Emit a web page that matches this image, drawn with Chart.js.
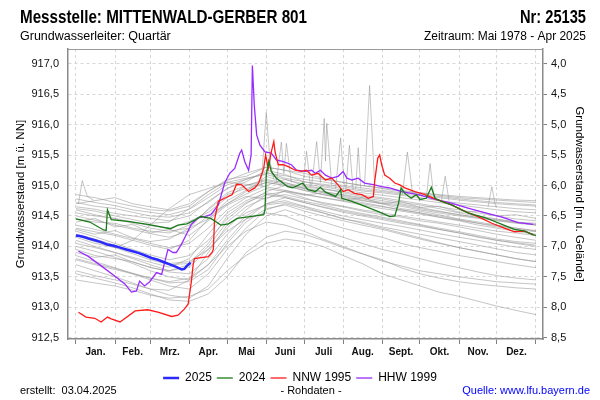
<!DOCTYPE html>
<html><head><meta charset="utf-8">
<script src="https://cdn.jsdelivr.net/npm/chart.js@4.4.1/dist/chart.umd.min.js"></script>
<style>html,body{margin:0;padding:0;background:#fff;}#wrap{width:600px;height:400px;position:relative;}</style>
</head><body><div id="wrap"><canvas id="c" width="600" height="400"></canvas></div>
<script>
const FONT = '"Liberation Sans", Arial, sans-serif';
const titleLeft = 'Messstelle: MITTENWALD-GERBER 801';
const titleRight = 'Nr: 25135';
const subLeft = 'Grundwasserleiter: Quartär';
const subRight = 'Zeitraum: Mai 1978 - Apr 2025';
const footLeft = 'erstellt:  03.04.2025';
const footMid = '- Rohdaten -';
const footRight = 'Quelle: www.lfu.bayern.de';
const yTitleLeft = 'Grundwasserstand [m ü. NN]';
const yTitleRight = 'Grundwasserstand [m u. Gelände]';
const groundLevel = 921.0;

const monthLabels = ['Jan.','Feb.','Mrz.','Apr.','Mai','Juni','Juli','Aug.','Sept.','Okt.','Nov.','Dez.'];
const monthStarts = [0,31,59,90,120,151,181,212,243,273,304,334,365];
const monthMids = [15.5,45,74.5,105,135.5,166,196.5,227.5,258,288.5,319,349.5];
const leftTicks = [912.5,913.0,913.5,914.0,914.5,915.0,915.5,916.0,916.5,917.0];
const rightTicks = [4.0,4.5,5.0,5.5,6.0,6.5,7.0,7.5,8.0,8.5];

// Year 2025
const days2025 = [0,3,7,10,15,20,25,30,35,40,45,50,55,60,65,70,75,80,84,86,88,91];
const vals2025 = [914.18,914.17,914.15,914.13,914.10,914.07,914.03,914.01,913.98,913.95,913.92,913.89,913.85,913.81,913.78,913.74,913.70,913.66,913.62,913.63,913.68,913.73];

// Year 2024
const days2024 = [0,11,22,24,25,28,41,57,75,81,88,95,99,107,115,121,128,138,149,150,151,153,155,159,163,168,172,180,184,190,194,198,206,210,211,219,229,240,249,253,256,258,261,266,270,273,278,282,285,290,298,311,325,338,348,356,363,365];
const vals2024 = [914.45,914.40,914.27,914.26,914.60,914.44,914.41,914.36,914.29,914.35,914.37,914.44,914.49,914.46,914.35,914.37,914.46,914.49,914.52,914.60,915.17,915.40,915.23,915.12,915.06,914.98,914.96,915.04,914.93,914.90,914.97,914.89,914.82,914.93,914.79,914.74,914.66,914.57,914.49,914.50,914.71,914.96,914.87,914.79,914.85,914.77,914.79,914.97,914.79,914.74,914.68,914.55,914.47,914.36,914.28,914.25,914.19,914.18];

// NNW 1995
const daysNNW = [2,8,15,20,25,28,35,47,57,65,76,81,86,89,91.5,93,94,105,108,109,110,113,118,124,127.5,131.5,137,142,145,149,150.5,152.6,155,157,158,160.5,164.5,168.5,174,179,183,187,192,198,203,208,212,216,221,227,232,236,237,239.5,241,242.6,245,249,253,257,261,269,277,285,298,309,319,330,340,348,356,363];
const valsNNW = [912.92,912.84,912.82,912.76,912.84,912.81,912.76,912.94,912.96,912.92,912.85,912.87,912.97,913.05,913.41,913.70,913.80,913.83,913.90,913.95,914.44,914.74,914.79,914.85,915.02,915.01,914.90,914.96,915.04,915.28,915.50,915.28,915.55,915.72,915.55,915.34,915.34,915.31,915.25,915.23,915.25,915.17,915.20,915.09,915.12,915.01,914.90,914.93,914.87,914.85,914.79,914.82,915.06,915.45,915.50,915.34,915.17,915.12,915.04,915.01,914.96,914.90,914.85,914.78,914.68,914.57,914.49,914.38,914.30,914.24,914.25,914.19];

// HHW 1999
const daysHHW = [2,9.5,20,31,39,44,48,50.5,54.5,58.5,64,68,73,77,79.6,83.6,87.5,91.5,97,102,107,113,118,122,126,130,131.5,134,137,139,140,141.5,143.4,146,150,155,159,164.5,171,175,182,187,190,194,198,203,208,212,215,219,224,229,237,242.6,249,258.5,271.7,285,298,311,325,338,351,363];
const valsHHW = [913.92,913.84,913.68,913.51,913.38,913.25,913.27,913.43,913.35,913.42,913.57,913.54,913.95,913.90,913.90,914.03,914.19,914.36,914.47,914.49,914.52,914.68,915.04,915.20,915.28,915.53,915.58,915.39,915.25,915.50,916.97,916.32,915.83,915.66,915.55,915.53,915.42,915.39,915.34,915.25,915.23,915.25,915.20,915.25,915.17,915.12,915.15,915.23,915.12,915.09,915.12,915.04,915.01,914.98,914.96,914.90,914.85,914.77,914.71,914.63,914.55,914.48,914.39,914.36];

// Other years (grey), values at these days
const greyDays = [0,15,31,45,59,74,90,105,120,135,151,166,181,196,212,227,243,258,273,288,304,319,334,349,365];
const grey01 = [914.78,914.72,914.67,914.60,914.56,914.52,914.61,914.80,915.01,915.10,915.20,915.16,915.10,915.06,915.00,914.96,914.92,914.88,914.85,914.82,914.78,914.75,914.72,914.70,914.68];
const grey02 = [914.65,914.61,914.54,914.50,914.46,914.42,914.50,914.74,914.95,915.06,915.25,915.18,915.06,915.00,914.95,914.91,914.88,914.84,914.80,914.75,914.71,914.68,914.65,914.62,914.60];
const grey03 = [914.55,914.50,914.46,914.40,914.34,914.30,914.41,914.56,914.80,915.00,915.10,915.04,914.98,914.94,914.90,914.84,914.80,914.75,914.70,914.65,914.60,914.55,914.50,914.45,914.42];
const grey04 = [914.50,914.43,914.35,914.28,914.21,914.15,914.26,914.50,914.70,914.86,915.00,915.10,915.00,914.95,914.88,914.82,914.78,914.72,914.68,914.62,914.55,914.50,914.45,914.40,914.35];
const grey05 = [914.35,914.28,914.20,914.13,914.05,913.98,914.05,914.30,914.60,914.80,914.95,914.90,914.85,914.80,914.75,914.70,914.65,914.60,914.55,914.48,914.42,914.35,914.30,914.25,914.20];
const grey06 = [914.25,914.16,914.05,913.95,913.86,913.78,913.85,914.10,914.45,914.70,914.90,915.00,914.92,914.85,914.80,914.75,914.70,914.62,914.58,914.52,914.45,914.40,914.35,914.30,914.25];
const grey07 = [914.10,914.00,913.90,913.80,913.70,913.60,913.66,913.95,914.30,914.60,914.85,914.90,914.80,914.70,914.65,914.58,914.52,914.48,914.42,914.38,914.32,914.26,914.20,914.15,914.10];
const grey08 = [914.00,913.92,913.82,913.72,913.60,913.50,913.45,913.70,914.10,914.45,914.70,914.80,914.72,914.65,914.58,914.52,914.46,914.40,914.35,914.28,914.22,914.15,914.10,914.05,914.00];
const grey09 = [913.85,913.75,913.65,913.55,913.45,913.35,913.30,913.55,913.95,914.30,914.60,914.70,914.62,914.55,914.46,914.38,914.30,914.22,914.14,914.06,913.98,913.92,913.86,913.80,913.75];
const grey10 = [913.70,913.60,913.50,913.40,913.30,913.20,913.15,913.35,913.80,914.20,914.50,914.60,914.50,914.40,914.30,914.22,914.15,914.05,913.98,913.92,913.85,913.80,913.75,913.70,913.65];
const grey11 = [913.55,913.48,913.40,913.32,913.22,913.12,913.10,913.22,913.50,913.90,914.15,914.25,914.20,914.10,913.98,913.88,913.78,913.65,913.55,913.48,913.42,913.38,913.35,913.32,913.30];
const grey12 = [913.45,913.40,913.35,913.28,913.20,913.15,913.18,913.30,913.60,913.85,914.05,914.12,914.08,914.00,913.85,913.72,913.55,913.45,913.35,913.25,913.18,913.10,913.02,912.95,912.88];
const grey13 = [914.70,914.75,914.80,914.70,914.65,914.60,914.70,914.90,915.10,915.15,915.30,915.25,915.15,915.10,915.05,915.00,914.95,914.90,914.88,914.85,914.82,914.80,914.78,914.76,914.75];
const grey14 = [914.45,914.40,914.38,914.30,914.25,914.22,914.35,914.60,914.85,914.95,915.05,915.00,914.95,914.90,914.85,914.80,914.75,914.70,914.64,914.58,914.52,914.48,914.44,914.40,914.38];
const grey15 = [914.60,914.52,914.45,914.38,914.30,914.25,914.30,914.45,914.70,914.90,915.15,915.05,914.95,914.88,914.82,914.76,914.70,914.66,914.60,914.55,914.50,914.46,914.42,914.38,914.35];
const grey16 = [913.95,913.85,913.80,913.75,913.65,913.60,913.70,914.00,914.40,914.65,914.80,914.85,914.78,914.72,914.66,914.60,914.55,914.50,914.45,914.40,914.35,914.30,914.25,914.22,914.18];
const grey17 = [914.20,914.12,914.02,913.92,913.82,913.72,913.75,913.95,914.25,914.45,914.55,914.50,914.38,914.25,914.15,914.05,913.95,913.88,913.80,913.72,913.65,913.58,913.52,913.48,913.45];
const grey18 = [914.62,914.58,914.50,914.44,914.38,914.40,914.62,914.85,915.05,915.12,915.18,915.10,915.02,914.98,914.92,914.88,914.84,914.80,914.76,914.72,914.68,914.64,914.60,914.57,914.55];
const grey19 = [914.30,914.24,914.18,914.10,914.02,913.95,914.10,914.45,914.75,914.92,915.05,915.00,914.92,914.85,914.78,914.72,914.66,914.60,914.55,914.50,914.44,914.38,914.32,914.28,914.24];
const grey20 = [914.05,913.98,913.90,913.82,913.74,913.66,913.80,914.20,914.55,914.75,914.88,914.82,914.74,914.68,914.60,914.54,914.48,914.42,914.36,914.30,914.24,914.18,914.12,914.08,914.05];
const grey21 = [913.78,913.70,913.62,913.55,913.48,913.40,913.42,913.62,914.05,914.40,914.62,914.68,914.58,914.50,914.42,914.35,914.28,914.20,914.12,914.05,913.98,913.92,913.86,913.80,913.75];
const grey22 = [914.85,914.80,914.72,914.66,914.60,914.58,914.66,914.90,915.08,915.20,915.30,915.25,915.20,915.12,915.05,915.00,914.96,914.92,914.88,914.84,914.80,914.78,914.76,914.74,914.72];
const grey23 = [914.15,914.05,913.98,914.10,914.35,914.62,914.85,914.95,915.05,915.02,914.98,914.92,914.86,914.80,914.74,914.68,914.62,914.58,914.53,914.48,914.43,914.38,914.34,914.30,914.26];
const grey24 = [914.40,914.46,914.32,914.36,914.22,914.28,914.18,914.42,914.68,914.82,914.78,914.92,914.84,914.88,914.76,914.80,914.70,914.74,914.64,914.66,914.56,914.58,914.50,914.52,914.46];
const grey25 = [913.60,913.52,913.45,913.38,913.30,913.28,913.45,913.90,914.35,914.55,914.68,914.72,914.65,914.55,914.45,914.40,914.32,914.26,914.20,914.14,914.08,914.02,913.96,913.90,913.86];
const grey26 = [914.28,914.20,914.26,914.14,914.08,914.12,914.30,914.62,914.88,915.00,915.08,915.02,914.96,914.90,914.84,914.78,914.72,914.68,914.62,914.57,914.52,914.47,914.43,914.39,914.36];
const grey27 = [913.90,913.82,913.86,913.74,913.66,913.58,913.55,913.80,914.20,914.50,914.70,914.75,914.66,914.58,914.50,914.44,914.38,914.33,914.27,914.21,914.15,914.10,914.04,913.99,913.95];
const grey28 = [913.80,913.72,913.64,913.56,913.48,913.42,913.48,913.70,914.00,914.25,914.40,914.35,914.25,914.12,914.00,913.88,913.76,913.68,913.60,913.55,913.50,913.46,913.42,913.40,913.38];
const grey29 = [914.72,914.66,914.62,914.56,914.50,914.48,914.55,914.72,914.95,915.10,915.22,915.12,915.06,915.02,914.98,914.93,914.90,914.86,914.83,914.80,914.76,914.73,914.70,914.68,914.66];
const grey30 = [914.18,914.08,913.98,913.88,913.78,913.70,913.72,914.05,914.50,914.72,914.85,914.80,914.72,914.64,914.56,914.50,914.44,914.38,914.33,914.28,914.22,914.16,914.10,914.06,914.02];
const greyYears = [grey01,grey02,grey03,grey04,grey05,grey06,grey07,grey08,grey09,grey10,grey11,grey12,grey13,grey14,grey15,grey16,grey17,grey18,grey19,grey20,grey21,grey22,grey23,grey24,grey25,grey26,grey27,grey28,grey29,grey30];

// Short-lived peaks of other years: [day, value]
const peakJan = [[2,914.70],[5,915.08],[9,914.82],[14,914.76]];
const peakJun1 = [[147,915.00],[151,916.20],[154,915.40],[157,915.10]];
const peakJun2 = [[159,915.05],[163,915.71],[165,915.20],[167,915.69],[171,915.05]];
const peakJul0 = [[180,915.00],[183,915.56],[186,915.00]];
const peakJul1 = [[187,915.00],[191,915.72],[194,915.05]];
const peakJul2 = [[194,915.05],[197,916.10],[198,915.40],[199,916.02],[203,915.00]];
const peakJul3 = [[206,914.95],[210,915.78],[213,914.98]];
const peakAug1 = [[214,914.90],[217,915.66],[220,914.92]];
const peakAug2 = [[222,914.95],[224,915.62],[226,914.95]];
const peakAug3 = [[229,915.00],[233,916.64],[237,915.02]];
const peakSep = [[259,914.85],[263,915.55],[267,914.88]];
const peakOkt1 = [[278,914.80],[281,915.36],[284,914.80]];
const peakOkt2 = [[290,914.75],[293,915.15],[296,914.75]];
const peakNov = [[327,914.65],[330,914.98],[333,914.65]];
const greyPeaks = [peakJan,peakJun1,peakJun2,peakJul0,peakJul1,peakJul2,peakJul3,peakAug1,peakAug2,peakAug3,peakSep,peakOkt1,peakOkt2,peakNov];

const xy = (ds, vs) => ds.map((d, i) => ({x: d, y: vs[i]}));
const GREY = 'rgba(150,150,150,0.55)';
const mainSets = [
  {label:'2025', data: xy(days2025, vals2025), borderColor:'#2a2aff', backgroundColor:'#2a2aff', borderWidth:2.5},
  {label:'2024', data: xy(days2024, vals2024), borderColor:'#1a7a1a', backgroundColor:'#1a7a1a', borderWidth:1.3},
  {label:'NNW 1995', data: xy(daysNNW, valsNNW), borderColor:'#ff1a1a', backgroundColor:'#ff1a1a', borderWidth:1.3},
  {label:'HHW 1999', data: xy(daysHHW, valsHHW), borderColor:'#9a2bff', backgroundColor:'#9a2bff', borderWidth:1.3}
];
const greySets = greyYears.map(v => ({label:'', data: xy(greyDays, v), borderColor: GREY, borderWidth: 1}))
  .concat(greyPeaks.map(p => ({label:'', data: p.map(q => ({x:q[0], y:q[1]})), borderColor: GREY, borderWidth: 1})));
const datasets = mainSets.concat(greySets).map(d => Object.assign({pointRadius:0, tension:0, fill:false}, d));

const isMid = v => monthMids.indexOf(v) >= 0;
const fmt = v => v.toFixed(1).replace('.', ',');

const textPlugin = {
  id: 'texts',
  afterDraw(chart) {
    const ctx = chart.ctx, a = chart.chartArea;
    ctx.save();
    ctx.strokeStyle = '#9a9a9a'; ctx.lineWidth = 1;
    ctx.beginPath(); ctx.moveTo(a.left, Math.round(a.top) + 0.5); ctx.lineTo(a.right, Math.round(a.top) + 0.5); ctx.stroke();
    ctx.fillStyle = '#000'; ctx.textBaseline = 'alphabetic';
    ctx.font = 'bold 19px ' + FONT;
    ctx.textAlign = 'left'; ctx.fillText(titleLeft, 20, 23, 287);
    ctx.textAlign = 'right'; ctx.fillText(titleRight, 586, 23, 66);
    ctx.font = '12.5px ' + FONT;
    ctx.textAlign = 'left'; ctx.fillText(subLeft, 20, 40, 151);
    ctx.textAlign = 'right'; ctx.fillText(subRight, 586, 40, 162);
    ctx.font = '11px ' + FONT;
    ctx.textAlign = 'left'; ctx.fillText(footLeft, 20, 394);
    ctx.textAlign = 'center'; ctx.fillText(footMid, 311, 394);
    ctx.fillStyle = '#0000ff'; ctx.textAlign = 'right'; ctx.fillText(footRight, 590, 394);
    ctx.restore();
  }
};

new Chart(document.getElementById('c'), {
  type: 'line',
  data: { datasets },
  plugins: [textPlugin],
  options: {
    responsive: false, animation: false, parsing: true,
    layout: { padding: { top: 49, left: 0, right: 0, bottom: 6 } },
    plugins: {
      tooltip: { enabled: false },
      title: { display: false },
      legend: {
        position: 'bottom',
        labels: {
          filter: item => item.datasetIndex < 4,
          usePointStyle: true, pointStyle: 'line', pointStyleWidth: 16,
          boxHeight: 12, padding: 5,
          color: '#000', font: { family: FONT, size: 12 }
        }
      }
    },
    scales: {
      x: {
        type: 'linear', min: -6.3, max: 370.6,
        afterBuildTicks: s => { s.ticks = monthStarts.concat(monthMids).sort((p, q) => p - q).map(v => ({value: v})); },
        afterFit: s => { s.height = 28; },
        ticks: {
          autoSkip: false, maxRotation: 0, padding: 2, color: '#111',
          font: { family: FONT, size: 10, weight: 'bold' },
          callback: v => isMid(v) ? monthLabels[monthMids.indexOf(v)] : ''
        },
        grid: {
          color: c => (c.tick && isMid(c.tick.value)) ? 'rgba(0,0,0,0)' : '#d6d6d6',
          tickColor: c => (c.tick && isMid(c.tick.value)) ? 'rgba(0,0,0,0)' : '#808080',
          tickLength: 5, lineWidth: 1
        },
        border: { display: true, color: '#8a8a8a', width: 1.5, dash: [3, 3] }
      },
      y: {
        type: 'linear', position: 'left', min: 912.48, max: 917.24,
        afterBuildTicks: s => { s.ticks = leftTicks.map(v => ({value: v})); },
        afterFit: s => { s.width = 68; },
        ticks: { padding: 9, color: '#111', font: { family: FONT, size: 11 }, callback: v => fmt(v) },
        grid: { color: '#d6d6d6', drawTicks: false, lineWidth: 1 },
        border: { display: true, color: '#8a8a8a', width: 1.5, dash: [3, 3] },
        title: { display: true, text: yTitleLeft, color: '#000', font: { family: FONT, size: 11.5 }, padding: { top: 14, bottom: 0 } }
      },
      y2: {
        type: 'linear', position: 'right', reverse: true,
        min: groundLevel - 917.24, max: groundLevel - 912.48,
        afterBuildTicks: s => { s.ticks = rightTicks.map(v => ({value: v})); },
        afterFit: s => { s.width = 57; },
        ticks: { padding: 4, color: '#111', font: { family: FONT, size: 11 }, callback: v => fmt(v) },
        grid: { drawOnChartArea: false, tickLength: 4, tickColor: '#808080' },
        border: { display: true, color: '#8a8a8a', width: 1.5 },
        title: { display: true, text: yTitleRight, color: '#000', font: { family: FONT, size: 11.5 }, padding: { top: 14, bottom: 0 } }
      }
    }
  }
});
</script>
</body></html>
